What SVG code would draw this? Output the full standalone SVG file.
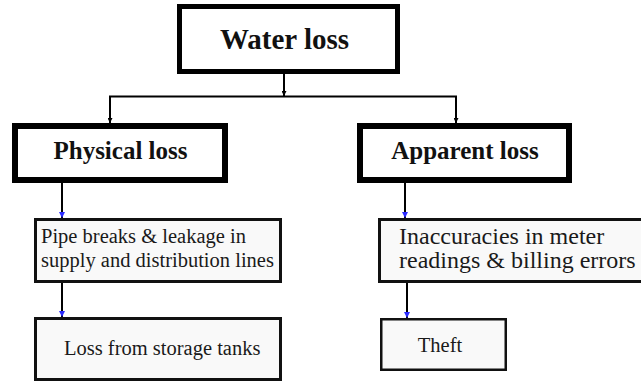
<svg xmlns="http://www.w3.org/2000/svg" width="641" height="383" viewBox="0 0 641 383">
  <style>
    .thick { fill: #ffffff; stroke: #000000; }
    .thin { fill: #f9f9f9; stroke: #111111; }
    .head { font-family: "Liberation Serif", "Times New Roman", serif; font-weight: bold; fill: #111111; }
    .body { font-family: "Liberation Serif", "Times New Roman", serif; fill: #1a1a1a; }
    .conn { stroke: #000000; stroke-width: 2; fill: none; }
  </style>
  <defs>
    <marker id="arrBlack" viewBox="0 0 6 6" refX="6" refY="3" markerWidth="5" markerHeight="5" markerUnits="userSpaceOnUse" orient="auto">
      <path d="M0,0 L6,3 L0,6 z" fill="#000000"/>
    </marker>
    <marker id="arrBlue" viewBox="0 0 6 6" refX="6" refY="3" markerWidth="7" markerHeight="6" markerUnits="userSpaceOnUse" orient="auto">
      <path d="M0,0 L6,3 L0,6 z" fill="#2a2aff"/>
    </marker>
  </defs>
  <rect width="641" height="383" fill="#ffffff"/>

  <g id="connectors">
    <line class="conn" x1="284" y1="74" x2="284" y2="96" marker-end="url(#arrBlack)"/>
    <line class="conn" x1="109" y1="96.5" x2="457" y2="96.5"/>
    <line class="conn" x1="110" y1="96" x2="110" y2="123" marker-end="url(#arrBlack)"/>
    <line class="conn" x1="456" y1="96" x2="456" y2="123" marker-end="url(#arrBlack)"/>
    <line class="conn" x1="62" y1="183" x2="62" y2="218" marker-end="url(#arrBlue)"/>
    <line class="conn" x1="62" y1="283" x2="62" y2="317" marker-end="url(#arrBlue)"/>
    <line class="conn" x1="405" y1="183" x2="405" y2="218" marker-end="url(#arrBlue)"/>
    <line class="conn" x1="407" y1="283" x2="407" y2="318" marker-end="url(#arrBlue)"/>
  </g>

  <g id="water-loss">
    <rect class="thick" x="179.5" y="6.5" width="218" height="65" stroke-width="5"/>
    <text class="head" x="284.5" y="49" font-size="29" text-anchor="middle">Water loss</text>
  </g>

  <g id="physical-loss">
    <rect class="thick" x="15" y="126" width="210" height="54" stroke-width="6"/>
    <text class="head" x="120.5" y="159" font-size="25" text-anchor="middle">Physical loss</text>
  </g>

  <g id="apparent-loss">
    <rect class="thick" x="360" y="126" width="209" height="54" stroke-width="6"/>
    <text class="head" x="465" y="159" font-size="25" text-anchor="middle">Apparent loss</text>
  </g>

  <g id="pipe-breaks">
    <rect class="thin" x="35.5" y="219.5" width="245" height="62" stroke-width="3"/>
    <text class="body" x="41" y="243" font-size="20.5">Pipe breaks &amp; leakage in</text>
    <text class="body" x="41" y="267" font-size="20.5">supply and distribution lines</text>
  </g>

  <g id="storage-tanks">
    <rect class="thin" x="35.5" y="318.5" width="245" height="61" stroke-width="3"/>
    <text class="body" x="64" y="355" font-size="20.5">Loss from storage tanks</text>
  </g>

  <g id="meter-inaccuracies">
    <rect class="thin" x="379.5" y="219.5" width="270" height="62" stroke-width="3"/>
    <text class="body" x="399" y="244" font-size="24">Inaccuracies in meter</text>
    <text class="body" x="399" y="268" font-size="24">readings &amp; billing errors</text>
  </g>

  <g id="theft">
    <rect class="thin" x="381.25" y="319.25" width="124.5" height="50.5" stroke-width="2.5"/>
    <text class="body" x="440" y="352" font-size="20.5" text-anchor="middle">Theft</text>
  </g>
</svg>
